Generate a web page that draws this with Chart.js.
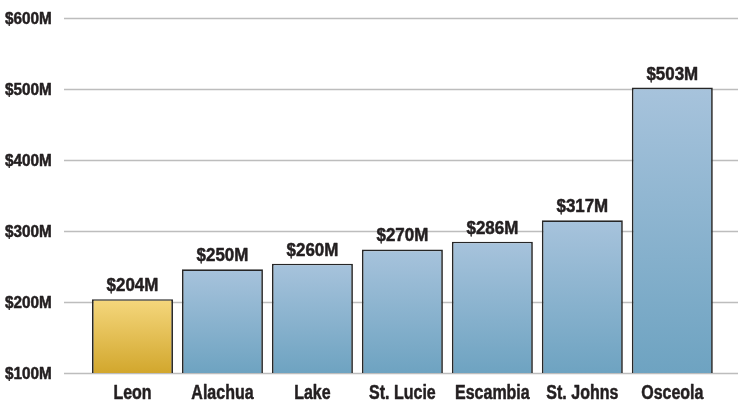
<!DOCTYPE html>
<html>
<head>
<meta charset="utf-8">
<script src="https://cdn.jsdelivr.net/npm/chart.js@4.4.0/dist/chart.umd.min.js"></script>
<style>
  html, body { margin: 0; padding: 0; background: #ffffff; }
  #wrap { width: 742px; height: 404px; position: relative; }
</style>
</head>
<body>
<div id="wrap"><canvas id="c" width="742" height="404"></canvas></div>
<script>
const categories = ["Leon", "Alachua", "Lake", "St. Lucie", "Escambia", "St. Johns", "Osceola"];
const values = [204, 246, 254, 274, 285, 315, 502];
const valueLabels = ["$204M", "$250M", "$260M", "$270M", "$286M", "$317M", "$503M"];
const highlight = ["Leon"];
const yTicks = [100, 200, 300, 400, 500, 600];
const yTickLabels = ["$100M", "$200M", "$300M", "$400M", "$500M", "$600M"];

const FONT = "'Liberation Sans', Arial, sans-serif";
const TEXT = '#231f20';

function barFill(ctx) {
  const chart = ctx.chart;
  const area = chart.chartArea;
  if (!area) return '#8fb3cf';
  const idx = ctx.dataIndex;
  const isHi = highlight.includes(categories[idx]);
  const yTop = chart.scales.y.getPixelForValue(values[idx]);
  const yBot = chart.scales.y.getPixelForValue(chart.scales.y.min);
  const g = chart.ctx.createLinearGradient(0, yTop, 0, yBot);
  if (isHi) {
    g.addColorStop(0, '#f5d77d');
    g.addColorStop(1, '#d2a72d');
  } else {
    g.addColorStop(0, '#a7c3dc');
    g.addColorStop(1, '#6ea3c1');
  }
  return g;
}

// draw condensed text: horizontal scale k around anchor x
function condText(ctx, txt, x, y, size, k, align) {
  ctx.save();
  ctx.font = 'bold ' + size + 'px ' + FONT;
  ctx.translate(x, y);
  ctx.scale(k, 1);
  ctx.textAlign = align;
  ctx.textBaseline = 'alphabetic';
  ctx.fillStyle = TEXT;
  ctx.strokeStyle = TEXT;
  ctx.lineWidth = 0.5;
  ctx.lineJoin = 'round';
  ctx.fillText(txt, 0, 0);
  ctx.strokeText(txt, 0, 0);
  ctx.restore();
}

const gridPlugin = {
  id: 'extGrid',
  beforeDatasetsDraw(chart) {
    const ctx = chart.ctx;
    const ys = chart.scales.y;
    ctx.save();
    ctx.strokeStyle = '#bdbdbd';
    ctx.lineWidth = 1.6;
    yTicks.forEach((v) => {
      const y = Math.round(ys.getPixelForValue(v)) + 0.5;
      ctx.beginPath();
      ctx.moveTo(64, y);
      ctx.lineTo(738, y);
      ctx.stroke();
    });
    ctx.restore();
  }
};

const labelPlugin = {
  id: 'texts',
  afterDatasetsDraw(chart) {
    const ctx = chart.ctx;
    const ys = chart.scales.y;
    const xs = chart.scales.x;
    const meta = chart.getDatasetMeta(0);
    meta.data.forEach((bar, i) => {
      condText(ctx, valueLabels[i], bar.x, bar.y - 8, 18, 0.94, 'center');
    });
    yTicks.forEach((v, i) => {
      const y = ys.getPixelForValue(v);
      condText(ctx, yTickLabels[i], 5, y + 6, 16, 0.955, 'left');
    });
    categories.forEach((c, i) => {
      const x = xs.getPixelForValue(i);
      condText(ctx, c, x, chart.chartArea.bottom + 26, 19.5, 0.82, 'center');
    });
  }
};

new Chart(document.getElementById('c'), {
  type: 'bar',
  data: {
    labels: categories,
    datasets: [{
      data: values,
      backgroundColor: barFill,
      borderColor: '#262626',
      borderWidth: 1.7,
      borderSkipped: false,
      barPercentage: 0.9,
      categoryPercentage: 1.0
    }]
  },
  options: {
    responsive: false,
    animation: false,
    devicePixelRatio: 1,
    layout: { padding: { left: 87.5, right: 24.7, top: 18, bottom: 31 } },
    plugins: { legend: { display: false }, tooltip: { enabled: false } },
    scales: {
      x: {
        grid: { display: false, drawTicks: false },
        border: { display: false },
        ticks: { display: false }
      },
      y: {
        min: 100,
        max: 600,
        grid: { display: false, drawTicks: false },
        border: { display: false },
        ticks: { display: false }
      }
    }
  },
  plugins: [gridPlugin, labelPlugin]
});
</script>
</body>
</html>
